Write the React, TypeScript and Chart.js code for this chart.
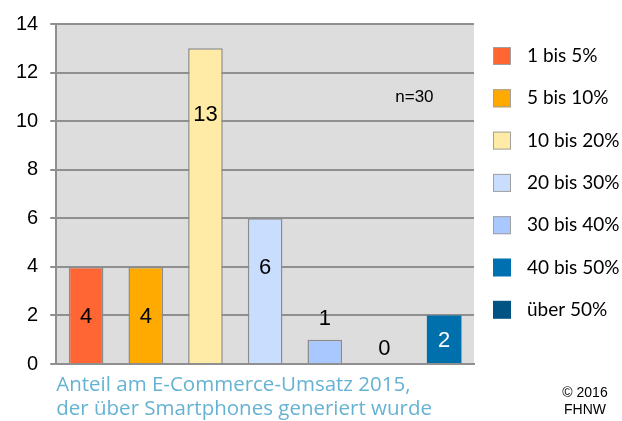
import React, { useEffect, useRef } from "react";
import { Chart, registerables } from "chart.js";

Chart.register(...registerables);

const categories = ["1 bis 5%", "5 bis 10%", "10 bis 20%", "20 bis 30%", "30 bis 40%", "40 bis 50%", "über 50%"];
const counts = [4, 4, 13, 6, 1, 0, 2];
const barColors = ["#FF6633", "#FFAA00", "#FFEBA6", "#C9DDFF", "#A9C8FF", "#0070B0", "#0070AD"];
const legendColors = ["#FF6633", "#FFAA00", "#FFEBA6", "#C9DDFF", "#A9C8FF", "#0070B0", "#005382"];
const yTicks = [0, 2, 4, 6, 8, 10, 12, 14];
const axisTitle = ["Anteil am E-Commerce-Umsatz 2015,", "der über Smartphones generiert wurde"];
const sampleNote = "n=30";
const creditLines = ["© 2016", "FHNW"];
// label placement: fraction of bar height, or "above" the bar top
const labelPlacement: (number | "above")[] = [0.48, 0.48, 0.79, 0.66, "above", "above", 0.47];
const labelColors = ["#000", "#000", "#000", "#000", "#000", "#000", "#fff"];

const SANS = "'Liberation Sans', Arial, sans-serif";
const HUMAN = "Lato, 'Open Sans', sans-serif";
const TITLE = "'Open Sans', Lato, sans-serif";

export default function App() {
  const ref = useRef<HTMLCanvasElement | null>(null);

  useEffect(() => {
    if (!ref.current) return;
    const extras = {
      id: "extras",
      afterDatasetsDraw(chart: any) {
        const ctx = chart.ctx;
        const meta = chart.getDatasetMeta(0);
        const ys = chart.scales.y;
        ctx.save();
        ctx.font = `22px ${SANS}`;
        ctx.textAlign = "center";
        ctx.textBaseline = "middle";
        meta.data.forEach((bar: any, i: number) => {
          const v = counts[i];
          const p = labelPlacement[i];
          let y: number;
          if (p === "above") {
            y = ys.getPixelForValue(v) - (v > 0 ? 21 : 15);
          } else {
            y = ys.getPixelForValue(v * p);
          }
          ctx.fillStyle = labelColors[i];
          ctx.fillText(String(v), bar.x, y);
        });
        ctx.restore();
      },
      afterDraw(chart: any) {
        const ctx = chart.ctx;
        const area = chart.chartArea;
        ctx.save();
        ctx.font = `17px ${SANS}`;
        ctx.fillStyle = "#000";
        ctx.textAlign = "left";
        ctx.textBaseline = "middle";
        ctx.fillText(sampleNote, area.left + 339, 97);
        const bx = area.right + 19;
        const top = 56;
        const step = 42.3;
        categories.forEach((c, i) => {
          const cy = top + i * step;
          ctx.fillStyle = legendColors[i];
          ctx.fillRect(bx, cy - 9, 18, 18);
          if (i < 5) {
            ctx.strokeStyle = "#a0a0a0";
            ctx.lineWidth = 1;
            ctx.strokeRect(bx + 0.5, cy - 8.5, 17, 17);
          }
          ctx.fillStyle = "#000";
          ctx.font = `19px ${HUMAN}`;
          ctx.textAlign = "left";
          ctx.textBaseline = "middle";
          ctx.fillText(c, bx + 34, cy);
        });
        ctx.font = `14px ${SANS}`;
        ctx.textAlign = "center";
        ctx.textBaseline = "middle";
        creditLines.forEach((t, i) => ctx.fillText(t, 585, 393 + i * 17));
        ctx.restore();
      },
    };

    const plotBg = {
      id: "plotBg",
      beforeDraw(chart: any) {
        const { ctx, chartArea: a } = chart;
        ctx.save();
        ctx.fillStyle = "#DDDDDD";
        ctx.fillRect(a.left, a.top, a.right - a.left, a.bottom - a.top);
        ctx.restore();
      },
    };

    const chart = new Chart(ref.current, {
      type: "bar",
      data: {
        labels: categories,
        datasets: [
          {
            data: counts,
            backgroundColor: barColors,
            borderColor: counts.map((_, i) => (i < 5 ? "#8c8c8c" : "rgba(0,0,0,0)")),
            borderWidth: counts.map((_, i) => (i < 5 ? 1.5 : 0)),
            barPercentage: 0.58,
            categoryPercentage: 1,
          },
        ],
      },
      options: {
        animation: false,
        responsive: false,
        maintainAspectRatio: false,
        layout: { padding: { left: 4, top: 19, right: 148, bottom: 0 } },
        plugins: { legend: { display: false }, tooltip: { enabled: false } },
        scales: {
          x: {
            grid: { display: false, drawTicks: false },
            border: { display: true, color: "#8f8f8f", width: 2 },
            ticks: { display: false },
            title: {
              display: true,
              text: axisTitle,
              align: "start",
              color: "#66B2D3",
              font: { family: TITLE, size: 20.5, lineHeight: 1.17 },
              padding: { top: 9, bottom: 0 },
            },
          },
          y: {
            min: 0,
            max: 14,
            afterBuildTicks(axis: any) {
              axis.ticks = yTicks.map((v) => ({ value: v }));
            },
            grid: { color: "#8f8f8f", lineWidth: 2, tickLength: 6, drawTicks: true },
            border: { display: true, color: "#8f8f8f", width: 2 },
            ticks: { color: "#000", font: { family: SANS, size: 20 }, padding: 12 },
          },
        },
      },
      plugins: [plotBg, extras],
    } as any);
    return () => chart.destroy();
  }, []);

  return (
    <div style={{ position: "fixed", left: 0, top: 0, width: 622, height: 421, background: "#fff" }}>
      <canvas ref={ref} width={622} height={421} style={{ width: 622, height: 421 }} />
    </div>
  );
}
